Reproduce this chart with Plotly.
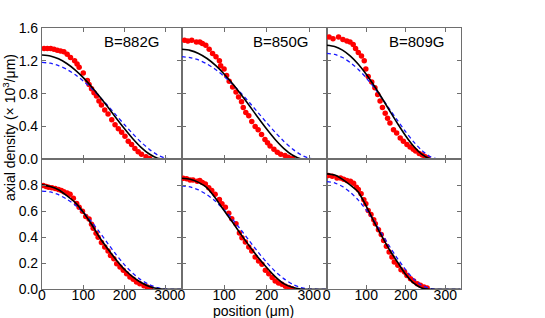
import plotly.graph_objects as go

# ---------------- data ----------------
fields = ["B=882G", "B=850G", "B=809G"]

# model curves sampled on a common position grid (µm)
x_curve = [0, 20, 40, 60, 80, 100, 120, 140, 160, 180, 200, 220, 240, 260, 280, 300, 320, 340]

# top row (axial density, 10^3/µm)
black_882 = [1.27, 1.258, 1.224, 1.167, 1.090, 0.995, 0.884, 0.762, 0.633, 0.500, 0.371, 0.250, 0.145, 0.063, 0.012, 0, 0, 0]
blue_882 = [1.18, 1.171, 1.142, 1.096, 1.033, 0.954, 0.862, 0.760, 0.650, 0.535, 0.420, 0.310, 0.208, 0.120, 0.052, 0.010, 0, 0]
black_850 = [1.34, 1.327, 1.290, 1.228, 1.144, 1.040, 0.920, 0.788, 0.648, 0.506, 0.368, 0.241, 0.133, 0.052, 0.006, 0, 0, 0]
blue_850 = [1.25, 1.240, 1.210, 1.161, 1.094, 1.011, 0.914, 0.805, 0.688, 0.567, 0.445, 0.328, 0.220, 0.127, 0.055, 0.011, 0, 0]
black_809 = [1.39, 1.375, 1.330, 1.256, 1.157, 1.035, 0.895, 0.743, 0.585, 0.429, 0.283, 0.157, 0.061, 0.007, 0, 0, 0, 0]
blue_809 = [1.29, 1.277, 1.240, 1.178, 1.095, 0.992, 0.873, 0.743, 0.605, 0.466, 0.332, 0.211, 0.109, 0.036, 0.002, 0, 0, 0]

# bottom row
black_882b = [0.803, 0.790, 0.765, 0.720, 0.668, 0.593, 0.500, 0.396, 0.308, 0.226, 0.152, 0.095, 0.052, 0.022, 0.006, 0, 0, 0]
blue_882b = [0.755, 0.748, 0.727, 0.693, 0.648, 0.591, 0.520, 0.437, 0.350, 0.265, 0.188, 0.123, 0.072, 0.036, 0.012, 0.001, 0, 0]
black_850b = [0.854, 0.846, 0.822, 0.780, 0.700, 0.605, 0.515, 0.420, 0.330, 0.245, 0.168, 0.098, 0.044, 0.015, 0.002, 0, 0, 0]
blue_850b = [0.795, 0.787, 0.764, 0.727, 0.676, 0.612, 0.538, 0.455, 0.370, 0.285, 0.207, 0.138, 0.082, 0.040, 0.014, 0.002, 0, 0]
black_809b = [0.887, 0.878, 0.845, 0.800, 0.747, 0.640, 0.518, 0.405, 0.298, 0.205, 0.113, 0.047, 0.010, 0, 0, 0, 0, 0]
blue_809b = [0.828, 0.818, 0.790, 0.745, 0.685, 0.610, 0.525, 0.425, 0.325, 0.232, 0.150, 0.080, 0.032, 0.006, 0, 0, 0, 0]

# measured points (red dots)
dx_882 = [5, 13, 21, 29, 37, 45, 53, 61, 69, 79, 85, 90, 100, 110, 114, 120, 126, 132, 138, 144, 152, 160, 169, 177, 185, 193, 201, 209, 217, 225, 233, 241, 252, 261]
dy_882 = [1.35, 1.35, 1.35, 1.34, 1.33, 1.32, 1.31, 1.28, 1.24, 1.20, 1.16, 1.12, 1.05, 0.96, 0.91, 0.86, 0.81, 0.77, 0.71, 0.66, 0.60, 0.55, 0.48, 0.42, 0.37, 0.33, 0.28, 0.22, 0.18, 0.13, 0.09, 0.06, 0.03, 0.01]
dx_850 = [7, 15, 24, 35, 43, 49, 57, 65, 73, 81, 89, 92, 100, 106, 112, 120, 128, 134, 141, 145, 151, 158, 165, 173, 180, 188, 196, 202, 208, 217, 225, 233, 243, 251, 261]
dy_850 = [1.45, 1.44, 1.45, 1.43, 1.43, 1.41, 1.39, 1.34, 1.29, 1.25, 1.20, 1.14, 1.10, 1.02, 0.95, 0.88, 0.82, 0.76, 0.70, 0.63, 0.57, 0.53, 0.46, 0.40, 0.36, 0.30, 0.24, 0.20, 0.16, 0.12, 0.085, 0.06, 0.045, 0.025, 0.01]
dx_809 = [6, 16, 30, 41, 51, 59, 67, 73, 80, 88, 95, 99, 105, 114, 122, 129, 135, 141, 148, 154, 160, 169, 177, 186, 194, 203, 211, 219, 225, 234, 242, 249, 256]
dy_809 = [1.49, 1.47, 1.49, 1.46, 1.44, 1.43, 1.40, 1.35, 1.30, 1.26, 1.20, 1.10, 1.01, 0.94, 0.87, 0.79, 0.71, 0.63, 0.56, 0.50, 0.44, 0.36, 0.32, 0.26, 0.22, 0.18, 0.15, 0.12, 0.10, 0.07, 0.05, 0.03, 0.016]

dx_882b = [3, 10, 16, 24, 32, 40, 47, 53, 61, 68, 76, 84, 90, 98, 106, 114, 120, 124, 131, 136, 144, 152, 160, 166, 174, 181, 189, 197, 205, 213, 221, 229, 237, 247, 255, 263]
dy_882b = [0.798, 0.79, 0.785, 0.78, 0.775, 0.767, 0.76, 0.75, 0.74, 0.73, 0.70, 0.66, 0.63, 0.60, 0.56, 0.54, 0.50, 0.47, 0.43, 0.40, 0.36, 0.325, 0.294, 0.26, 0.235, 0.197, 0.171, 0.146, 0.12, 0.095, 0.077, 0.056, 0.043, 0.028, 0.018, 0.01]
dx_850b = [4, 12, 20, 27, 37, 43, 49, 56, 64, 71, 79, 89, 95, 103, 111, 118, 128, 136, 142, 150, 158, 165, 173, 181, 189, 197, 205, 213, 220, 228, 236, 244, 252, 260]
dy_850b = [0.854, 0.849, 0.841, 0.841, 0.831, 0.836, 0.82, 0.81, 0.78, 0.76, 0.73, 0.69, 0.657, 0.631, 0.585, 0.542, 0.504, 0.432, 0.396, 0.363, 0.325, 0.294, 0.248, 0.217, 0.192, 0.146, 0.12, 0.09, 0.064, 0.049, 0.038, 0.023, 0.013, 0.005]
dx_809b = [4, 14, 26, 35, 43, 51, 60, 68, 75, 80, 87, 94, 99, 105, 112, 119, 123, 131, 138, 144, 151, 158, 165, 171, 180, 188, 197, 203, 212, 220, 229, 237, 246, 254]
dy_809b = [0.874, 0.869, 0.856, 0.856, 0.846, 0.836, 0.831, 0.815, 0.785, 0.767, 0.734, 0.688, 0.657, 0.606, 0.575, 0.534, 0.504, 0.458, 0.422, 0.376, 0.33, 0.286, 0.248, 0.21, 0.184, 0.151, 0.133, 0.107, 0.082, 0.064, 0.043, 0.031, 0.018, 0.01]

panels = [
    (dx_882, dy_882, black_882, blue_882),
    (dx_850, dy_850, black_850, blue_850),
    (dx_809, dy_809, black_809, blue_809),
    (dx_882b, dy_882b, black_882b, blue_882b),
    (dx_850b, dy_850b, black_850b, blue_850b),
    (dx_809b, dy_809b, black_809b, blue_809b),
]

xticks = [0, 100, 200, 300]
yticks_top = [0.0, 0.4, 0.8, 1.2, 1.6]
yticks_bot = [0.0, 0.2, 0.4, 0.6, 0.8]

# ---------------- layout geometry (window pixels) ----------------
W, H = 545, 318


def px_x(sx):
    return sx / W


def px_y(sy):
    return (H - sy) / H


col_px = [(42, 181.5), (181.5, 326.7), (326.7, 460.7)]
col_range = [338, 341, 339]
row_px = [(28, 159.2), (159.2, 289.3)]  # top, bottom rows (pixels from top)

fig = go.Figure()
FONT = "Liberation Sans, Arial, sans-serif"
FRAME = "#6e6e6e"

for i, (dx, dy, bk, bl) in enumerate(panels):
    r, c = divmod(i, 3)
    n = i + 1
    xa = "x" if n == 1 else f"x{n}"
    ya = "y" if n == 1 else f"y{n}"
    fig.add_trace(go.Scatter(x=dx, y=dy, mode="markers", xaxis=xa, yaxis=ya,
                             marker=dict(color="#ff0000", size=5.5), showlegend=False))
    fig.add_trace(go.Scatter(x=x_curve, y=bl, mode="lines", xaxis=xa, yaxis=ya,
                             line=dict(color="#1a1aff", width=1.3, dash="4px,3px", shape="spline", smoothing=0.6),
                             showlegend=False))
    fig.add_trace(go.Scatter(x=x_curve, y=bk, mode="lines", xaxis=xa, yaxis=ya,
                             line=dict(color="black", width=1.6, shape="spline", smoothing=0.6),
                             showlegend=False))

    x0, x1 = col_px[c]
    ytop, ybot = row_px[r]
    xkey = "xaxis" if n == 1 else f"xaxis{n}"
    ykey = "yaxis" if n == 1 else f"yaxis{n}"
    fig.layout[xkey] = dict(
        domain=[px_x(x0), px_x(x1)], range=[0, col_range[c]], anchor=ya,
        tickvals=xticks, ticktext=[str(v) for v in xticks],
        showticklabels=(r == 1), ticks="inside", ticklen=4, tickcolor=FRAME,
        showline=True, linecolor=FRAME, linewidth=1.2, mirror="ticks",
        showgrid=False, zeroline=False, automargin=False, ticklabelstandoff=-7,
        tickfont=dict(family=FONT, size=14, color="black"),
    )
    yt = yticks_top if r == 0 else yticks_bot
    fig.layout[ykey] = dict(
        domain=[px_y(ybot), px_y(ytop)],
        range=[0, 1.6] if r == 0 else [0, 1.0], anchor=xa,
        tickvals=yt, ticktext=[f"{v:.1f}" for v in yt],
        showticklabels=(c == 0), ticks="inside", ticklen=4, tickcolor=FRAME,
        showline=True, linecolor=FRAME, linewidth=1.2, mirror="ticks",
        showgrid=False, zeroline=False, automargin=False,
        tickfont=dict(family=FONT, size=14, color="black"),
    )

# field labels
label_px = [131.5, 280, 416]
for lab, cx in zip(fields, label_px):
    fig.add_annotation(text=lab, x=px_x(cx), y=px_y(42), xref="paper", yref="paper",
                       showarrow=False, xanchor="center", yanchor="middle",
                       font=dict(family=FONT, size=15, color="black"))

fig.add_annotation(text="axial density (× 10<sup>3</sup>/μm)", x=px_x(9), y=px_y(128),
                   xref="paper", yref="paper", showarrow=False, textangle=-90,
                   xanchor="center", yanchor="middle", font=dict(family=FONT, size=14, color="black"))
fig.add_annotation(text="position (μm)", x=px_x(253), y=px_y(311),
                   xref="paper", yref="paper", showarrow=False,
                   xanchor="center", yanchor="middle", font=dict(family=FONT, size=14, color="black"))

fig.update_layout(width=W, height=H, margin=dict(l=0, r=0, t=0, b=0, autoexpand=False),
                  paper_bgcolor="white", plot_bgcolor="white", template="none")

# remove the default page margin so the figure fills the 545x318 window exactly
fig.write_html("out.html", config={"displayModeBar": False},
               post_script="document.body.style.margin='0';document.body.style.padding='0';")
